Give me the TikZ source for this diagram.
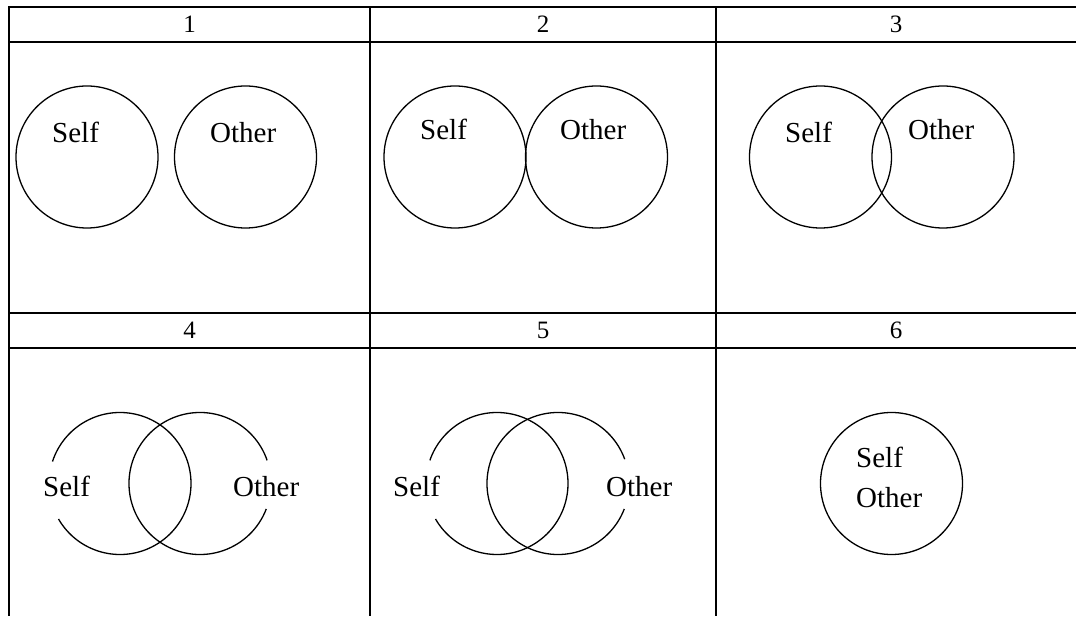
\documentclass[tikz,border=0pt]{standalone}
\usepackage{fontspec}
\setmainfont{Liberation Serif}
\usetikzlibrary{positioning}
\tikzset{
  lineaTabla/.style={draw=black, line width=2pt},
  circuloBase/.style={circle, inner sep=0pt, outer sep=0pt,
    minimum size=142pt},
  circuloTrazo/.style={circuloBase, draw=black, line width=1.3pt},
  trazoArco/.style={draw=black, line width=1.3pt},
  etiquetaCirculo/.style={inner sep=0pt, anchor=base west,
    font=\fontsize{29}{35}\selectfont},
  numeroPanel/.style={inner sep=0pt, anchor=base,
    font=\fontsize{25}{30}\selectfont},
}
\begin{document}
\begin{tikzpicture}[x=1pt, y=1pt]
    \useasboundingbox (0,0) rectangle (1076,616);
    % Tabla
    \draw[lineaTabla] (1076,609) -- (9,609) -- (9,0);
    \draw[lineaTabla] (9,574) -- (1076,574);
    \draw[lineaTabla] (9,303) -- (1076,303);
    \draw[lineaTabla] (9,268) -- (1076,268);
    \draw[lineaTabla] (370,609) -- (370,0);
    \draw[lineaTabla] (716,609) -- (716,0);

    % Numeros
    \node[numeroPanel] (n1) at (189.5,583) {1};
    \node[numeroPanel] (n2) at (543,583) {2};
    \node[numeroPanel] (n3) at (896,583) {3};
    \node[numeroPanel] (n4) at (189.5,277) {4};
    \node[numeroPanel] (n5) at (543,277) {5};
    \node[numeroPanel] (n6) at (896,277) {6};

    % Panel 1
    \node[circuloTrazo] (s1) at (87,459) {};
    \node[circuloTrazo] (o1) at (245.5,459) {};
    \node[etiquetaCirculo] (ts1) at (52,473) {Self};
    \node[etiquetaCirculo] (to1) at (210,473) {Other};

    % Panel 2
    \node[circuloTrazo] (s2) at (455,459) {};
    \node[circuloTrazo] (o2) at (596.5,459) {};
    \node[etiquetaCirculo] (ts2) at (420,476) {Self};
    \node[etiquetaCirculo] (to2) at (560,476) {Other};

    % Panel 3
    \node[circuloTrazo] (s3) at (820.5,459) {};
    \node[circuloTrazo] (o3) at (943,459) {};
    \node[etiquetaCirculo] (ts3) at (785,473) {Self};
    \node[etiquetaCirculo] (to3) at (908,476) {Other};

    % Panel 4
    \node[circuloBase] (s4) at (120,132.5) {};
    \node[circuloBase] (o4) at (200,132.5) {};
    \draw[trazoArco] (s4.210) arc[start angle=210, end angle=522, radius=71pt];
    \draw[trazoArco] (o4.19) arc[start angle=19, end angle=339, radius=71pt];
    \node[etiquetaCirculo] (ts4) at (43,119) {Self};
    \node[etiquetaCirculo] (to4) at (233,119) {Other};

    % Panel 5
    \node[circuloBase] (s5) at (497,132.5) {};
    \node[circuloBase] (o5) at (558,132.5) {};
    \draw[trazoArco] (s5.210) arc[start angle=210, end angle=521, radius=71pt];
    \draw[trazoArco] (o5.20) arc[start angle=20, end angle=339, radius=71pt];
    \node[etiquetaCirculo] (ts5) at (393,119) {Self};
    \node[etiquetaCirculo] (to5) at (606,119) {Other};

    % Panel 6
    \node[circuloTrazo] (so6) at (891.5,132.5) {};
    \node[etiquetaCirculo] (ts6) at (856,148) {Self};
    \node[etiquetaCirculo] (to6) at (856,108) {Other};
\end{tikzpicture}
\end{document}
